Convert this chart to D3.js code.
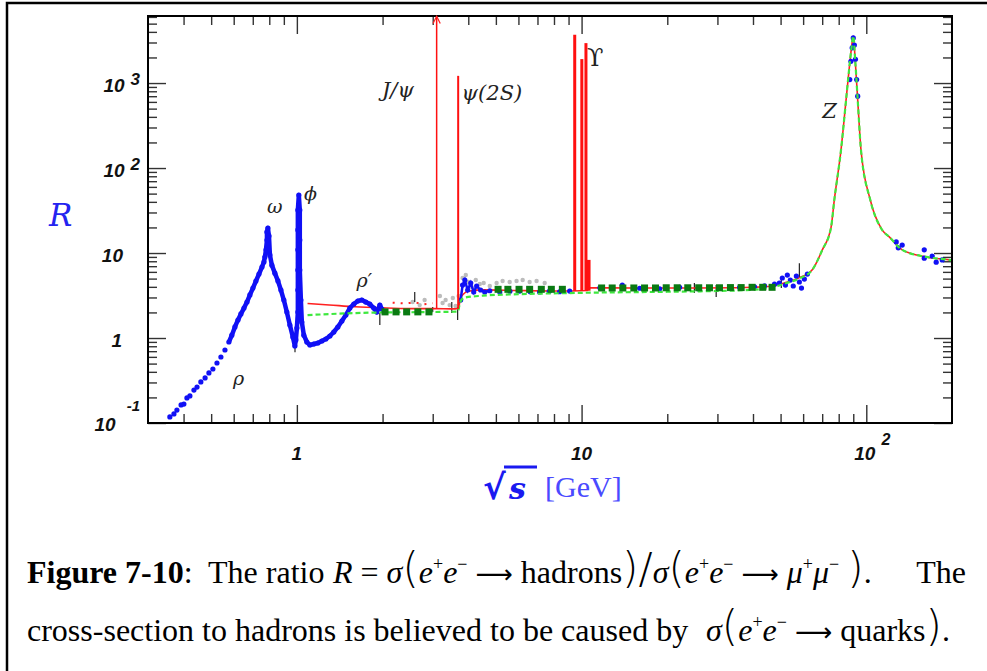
<!DOCTYPE html>
<meta charset="utf-8">
<title>R ratio</title>
<style>
body { margin: 0; background: #fff; }
svg { display: block; }
text { white-space: pre; }
.tick line { stroke: #333; stroke-width: 1.4; }
.tick text { display: none; }
.domain { display: none; }
</style>
<body>
<script src="https://d3js.org/d3.v7.min.js"></script>
<script>
// sqrt(s) [GeV], R

// blue data: rho / omega / phi / rho' region
var blueLow = [
  [0.358,0.118],[0.370,0.128],[0.379,0.142],[0.392,0.163],[0.401,0.167],[0.411,0.197],
  [0.421,0.208],[0.435,0.244],[0.446,0.265],[0.460,0.304],[0.476,0.339],[0.491,0.388],
  [0.507,0.432],[0.524,0.508],[0.541,0.598],[0.559,0.723],[0.577,0.897],[0.591,1.08],
  [0.606,1.35],[0.621,1.63],[0.636,1.92],[0.652,2.25],[0.668,2.65],[0.684,3.21],
  [0.701,3.87],[0.718,4.68],[0.736,5.66],[0.754,6.84],[0.766,7.84],[0.772,8.97],
  [0.779,10.9],[0.785,14.2],[0.785,17.7],[0.791,19.7],[0.798,15.9],[0.804,9.5],
  [0.817,7.2],[0.837,5.8],[0.858,4.7],[0.879,3.67],[0.900,2.8],[0.922,2.02],
  [0.945,1.42],[0.968,1.03],[0.984,0.805],[0.992,0.95],[1.0,1.31],[1.008,2.02],
  [1.008,3.67],[1.008,6.31],[1.008,10.9],[1.008,18.7],[1.008,32],[1.016,48],
  [1.024,32],[1.024,14.2],[1.024,6.3],[1.033,2.8],[1.041,1.54],[1.058,1.08],
  [1.084,0.897],[1.111,0.827],[1.147,0.85],[1.185,0.873],[1.224,0.922],[1.264,0.973],
  [1.306,1.056],[1.348,1.176],[1.393,1.347],[1.439,1.585],[1.486,1.865],[1.535,2.254],
  [1.585,2.512],[1.637,2.725],[1.691,2.8],[1.746,2.65],[1.803,2.51],[1.863,2.25],
  [1.909,2.02],[1.956,2.44],[1.987,2.19]
];

// blue data above charm threshold up to the Z rise
var blueMid = [
  [3.76,2.8],[3.82,4.2],[3.89,4.81],[3.98,3.67],[4.08,4.44],[4.18,3.48],[4.28,4.09],
  [4.42,3.67],[4.57,3.48],[4.76,3.6],[5.16,3.48],[5.6,3.55],[6.06,3.57],[6.6,3.5],
  [7.12,3.48],[7.7,3.55],[8.37,3.5],[9.08,3.57],[11.6,3.9],[13.9,4.2],[16,3.85],
  [18.8,3.8],[22.1,3.95],[25.9,3.75],[30.5,3.9],[35.9,3.95],[40.5,4.0],[43.9,4.1],
  [47.6,4.3],[49.5,4.44],[50.7,5.08],[52,4.2],[52.8,5.5],[54.1,4.81],[55.4,4.09],
  [56.8,5.36],[58.2,4.56],[59.2,3.87],[60.6,4.94],[62.1,5.66]
];

// blue data on and above the Z
var blueZ = [
  [87.5,1100],[88.3,1800],[89.2,2600],[90.0,3400],[90.8,2800],[91.6,1900],[92.5,1100],
  [93.3,700],[127.4,13.5],[129.5,11.5],[133.7,12.4],[159.8,10.9],[159.8,8.7],
  [170.4,9.2],[176,7.8],[184.8,8.3]
];

// grey data (charm threshold region)
var grayPts = [
  [2.55,2.65],[2.70,2.44],[2.81,2.8],[3.18,3.12],[3.25,2.58],[3.33,2.8],[3.44,2.44],
  [3.53,2.96],[3.61,2.38],[3.70,3.12],[3.82,5.08],[3.92,5.51],[4.01,4.56],[4.11,3.98],
  [4.25,4.81],[4.39,4.32],[4.53,4.44],[4.76,4.09],[5.03,4.44],[5.28,4.68],[5.59,4.56],
  [5.91,4.68],[6.21,4.81],[6.57,4.56],[6.95,4.68],[7.42,4.44]
];

// black error bars: sqrt(s), low, high
var errBars = [
  [0.985,0.68,0.85],[1.956,1.42,1.97],[2.594,2.65,3.48],[3.0,2.02,2.32],[3.5,1.97,2.65],
  [3.67,1.63,2.32],[24.9,3.38,4.44],[29.7,3.03,4.2],[50.3,3.87,5.08],[58.2,5.22,7.56]
];

// red curve (continuum part, resonances drawn as spikes)
var redCurve = [
  [1.09,2.55],[1.3,2.45],[1.6,2.33],[2.0,2.26],[2.5,2.22],[3.0,2.22],[3.6,2.2],
  [3.7,2.25],[3.75,2.9],[3.85,3.3],[4.0,3.55],[4.5,3.68],[6,3.62],[8,3.58],[9.3,3.58],
  [10.5,3.62],[10.6,3.9],[15,3.88],[25,3.88],[35,3.9],[40,3.95],[47,4.1],[52,4.5],
  [58,5.1],[64.5,6.3],[70,10.8],[75.2,20],[77.2,42],[81.5,163],[84.9,630],[87.2,1540],
  [88.6,2500],[90,3570],[91.5,1770],[93.3,630],[95.8,163],[103.3,42],[113.8,18.6],
  [120.4,15.5],[133.7,10.9],[162.4,9.0],[195.5,8.3],[200,8.2]
];

// red dotted segment
var redDotted = [[2.17,2.6],[2.4,2.55],[2.6,2.62],[2.8,2.5],[3.0,2.56]];

// green dashed curve
var greenCurve = [
  [1.09,1.86],[1.5,1.95],[2.0,2.0],[3.0,2.02],[3.68,2.05],[3.72,2.4],[3.78,2.8],
  [3.9,3.0],[4.5,3.15],[6,3.28],[9,3.38],[11,3.42],[20,3.5],[30,3.58],[40,3.7],
  [47,3.95],[52,4.4],[58,5.0],[64.5,6.3],[70,10.8],[75.2,20],[77.2,42],[81.5,163],
  [84.9,630],[87.2,1540],[88.6,2500],[90,3570],[91.5,1770],[93.3,630],[95.8,163],
  [103.3,42],[113.8,18.6],[120.4,15.5],[133.7,10.9],[162.4,9.0],[195.5,8.3],[200,8.2]
];

// dark green squares
var squares = [
  [2.04,2.03],[2.23,2.03],[2.43,2.03],[2.66,2.03],[2.91,2.03],
  [5.09,3.74],[5.51,3.74],[6.03,3.74],[6.57,3.74],[7.22,3.74],[7.83,3.74],[8.56,3.74],
  [11.76,3.88],[12.81,3.88],[13.96,3.88],[15.26,3.88],[16.64,3.88],[18.18,3.88],
  [19.83,3.9],[21.67,3.9],[23.6,3.9],[25.79,3.9],[28.13,3.9],[30.5,3.9],[33.33,3.92],
  [36.35,3.92],[39.71,3.95],[43.27,3.95],[46.68,3.95]
];

// narrow resonances: mass, base, peak, line width
var spikes = [
  {m: 3.097, base: 2.22, top: 6100, w: 1.5, arrow: true},
  {m: 3.686, base: 2.2, top: 1215, w: 2},
  {m: 9.46, base: 3.58, top: 3700, w: 3},
  {m: 10.02, base: 3.58, top: 1913, w: 3},
  {m: 10.36, base: 3.6, top: 2950, w: 3},
  {m: 10.58, base: 3.6, top: 8.3, w: 4}
];

// peak labels (left edge, baseline)
var peakLabels = [
  {t: "ρ", x: 0.597, y: 0.28, s: 19},
  {t: "ω", x: 0.785, y: 29.5, s: 19},
  {t: "ϕ", x: 1.06, y: 42, s: 19},
  {t: "ρ′", x: 1.62, y: 3.98, s: 19},
  {t: "J/ψ", x: 1.99, y: 684, s: 21},
  {t: "ψ(2S)", x: 3.79, y: 631, s: 21},
  {t: "ϒ", x: 10.45, y: 1585, s: 24, up: true},
  {t: "Z", x: 70, y: 387, s: 21}
];

var xMajor = [1, 10, 100];
var yMajor = [0.1, 1, 10, 100, 1000];

var W = 987, H = 671;
var margin = {top: 16, left: 148},
    width = 952 - 148,
    height = 423 - 16;

var svg = d3.select("body").append("svg")
    .attr("width", W)
    .attr("height", H);

// outer box of the figure
svg.append("rect")
    .attr("x", 7).attr("y", 3)
    .attr("width", 1000).attr("height", 700)
    .attr("fill", "none").attr("stroke", "#000").attr("stroke-width", 2.5);

var g = svg.append("g")
    .attr("transform", "translate(" + margin.left + "," + margin.top + ")");

var x = d3.scaleLog().domain([0.3, 200]).range([0, width]);
var y = d3.scaleLog().domain([0.1, 6150]).range([height, 0]);

var isMajor = function(v) { return Math.abs(Math.log10(v) - Math.round(Math.log10(v))) < 1e-6; };
var xMinor = x.ticks().filter(function(v) { return !isMajor(v) && v > 0.31 && v < 199; });
var yMinor = y.ticks().filter(function(v) { return !isMajor(v); });

// ticks on all four sides, pointing inwards
function ticks(axisFn, vals, size, tr) {
  g.append("g").attr("transform", tr)
    .call(axisFn.tickValues(vals).tickSize(-size).tickFormat(""));
}
ticks(d3.axisBottom(x), xMinor, 9, "translate(0," + height + ")");
ticks(d3.axisBottom(x), xMajor, 18, "translate(0," + height + ")");
ticks(d3.axisTop(x), xMinor, 9, "translate(0,0)");
ticks(d3.axisTop(x), xMajor, 18, "translate(0,0)");
ticks(d3.axisLeft(y), yMinor, 9, "translate(0,0)");
ticks(d3.axisLeft(y), yMajor, 18, "translate(0,0)");
ticks(d3.axisRight(y), yMinor, 9, "translate(" + width + ",0)");
ticks(d3.axisRight(y), yMajor, 18, "translate(" + width + ",0)");

// clip
g.append("clipPath").attr("id", "clip")
  .append("rect").attr("width", width).attr("height", height);
var plot = g.append("g").attr("clip-path", "url(#clip)");

var line = d3.line()
    .x(function(d) { return x(d[0]); })
    .y(function(d) { return y(d[1]); });
var smooth = d3.line()
    .x(function(d) { return x(d[0]); })
    .y(function(d) { return y(d[1]); })
    .curve(d3.curveMonotoneX);

// grey points
plot.selectAll(".gray").data(grayPts).enter().append("circle")
    .attr("cx", function(d) { return x(d[0]); })
    .attr("cy", function(d) { return y(d[1]); })
    .attr("r", 2.2).attr("fill", "#bcbcbc");

// error bars
plot.selectAll(".err").data(errBars).enter().append("line")
    .attr("x1", function(d) { return x(d[0]); })
    .attr("x2", function(d) { return x(d[0]); })
    .attr("y1", function(d) { return y(d[1]); })
    .attr("y2", function(d) { return y(d[2]); })
    .attr("stroke", "#222").attr("stroke-width", 1.2);

// red continuum
plot.append("path").datum(redCurve).attr("d", smooth)
    .attr("fill", "none").attr("stroke", "#ff2020").attr("stroke-width", 1.6);
plot.append("path").datum(redDotted).attr("d", line)
    .attr("fill", "none").attr("stroke", "#ff2020").attr("stroke-width", 2)
    .attr("stroke-dasharray", "2,6");

// blue data
plot.append("path").datum(blueLow.filter(function(d) { return d[0] >= 0.57; }))
    .attr("d", line).attr("fill", "none").attr("stroke", "#1010f5")
    .attr("stroke-width", 4.5).attr("stroke-linejoin", "round");
plot.append("path").datum(blueMid.filter(function(d) { return d[0] < 5; }))
    .attr("d", line).attr("fill", "none").attr("stroke", "#1010f5")
    .attr("stroke-width", 2.5);
plot.selectAll(".blue").data(blueLow.concat(blueMid, blueZ)).enter().append("circle")
    .attr("cx", function(d) { return x(d[0]); })
    .attr("cy", function(d) { return y(d[1]); })
    .attr("r", 2.6).attr("fill", "#1010f5");

// green dashed
plot.append("path").datum(greenCurve).attr("d", smooth)
    .attr("fill", "none").attr("stroke", "#3ee83e").attr("stroke-width", 2.2)
    .attr("stroke-dasharray", "5,3");

// dark green squares
plot.selectAll(".sq").data(squares).enter().append("rect")
    .attr("x", function(d) { return x(d[0]) - 3.5; })
    .attr("y", function(d) { return y(d[1]) - 3.5; })
    .attr("width", 7).attr("height", 7).attr("fill", "#0a7a12");

// frame
g.append("rect").attr("width", width).attr("height", height)
    .attr("fill", "none").attr("stroke", "#000").attr("stroke-width", 2);

// resonance spikes (on top of the frame so the J/psi arrow shows)
svg.append("defs").append("marker")
    .attr("id", "arr").attr("viewBox", "0 0 10 10")
    .attr("refX", 9).attr("refY", 5)
    .attr("markerWidth", 9).attr("markerHeight", 9)
    .attr("markerUnits", "userSpaceOnUse")
    .attr("orient", "auto")
  .append("path").attr("d", "M1,1 L9,5 L1,9").attr("fill", "none")
    .attr("stroke", "#ff2020").attr("stroke-width", 1.4);
g.selectAll(".spike").data(spikes).enter().append("line")
    .attr("x1", function(d) { return x(d.m); })
    .attr("x2", function(d) { return x(d.m); })
    .attr("y1", function(d) { return y(d.base); })
    .attr("y2", function(d) { return y(d.top); })
    .attr("stroke", "#ff1010")
    .attr("stroke-width", function(d) { return d.w; })
    .attr("marker-end", function(d) { return d.arrow ? "url(#arr)" : null; });

// peak labels
g.selectAll(".plab").data(peakLabels).enter().append("text")
    .attr("x", function(d) { return x(d.x); })
    .attr("y", function(d) { return y(d.y); })
    .style("font-family", "'DejaVu Serif', serif")
    .style("font-style", function(d) { return d.up ? "normal" : "italic"; })
    .style("font-size", function(d) { return d.s + "px"; })
    .attr("fill", "#222")
    .text(function(d) { return d.t; });

// tick labels
var tickFont = "'Liberation Sans', Arial, sans-serif";
function powLabel(px, py, exp, anchor, expDx, expDy, expSize) {
  var t = svg.append("text").attr("x", px).attr("y", py)
      .attr("text-anchor", anchor)
      .style("font-family", tickFont).style("font-weight", "bold")
      .style("font-style", "italic").style("font-size", "19px").attr("fill", "#111");
  t.append("tspan").text("10");
  if (exp) t.append("tspan").attr("dx", expDx).attr("dy", expDy)
      .style("font-size", expSize + "px").text(exp);
  return t;
}
var L = margin.left, T = margin.top;
powLabel(140, T + y(1000) + 9, "3", "end", 6, -7, 17);
powLabel(140, T + y(100) + 9, "2", "end", 6, -7, 17);
powLabel(123, T + y(10) + 9, null, "end");
svg.append("text").attr("x", 122).attr("y", T + y(1) + 9).attr("text-anchor", "end")
    .style("font-family", tickFont).style("font-weight", "bold")
    .style("font-style", "italic").style("font-size", "19px").attr("fill", "#111").text("1");
powLabel(140, T + y(0.1) + 8, "-1", "end", 11, -20, 15);

svg.append("text").attr("x", L + x(1)).attr("y", 460).attr("text-anchor", "middle")
    .style("font-family", tickFont).style("font-weight", "bold")
    .style("font-style", "italic").style("font-size", "19px").attr("fill", "#111").text("1");
powLabel(L + x(10), 460, null, "middle");
powLabel(L + x(100) - 12, 460, "2", "start", 6, -15, 16);

// axis titles
svg.append("text").attr("x", 49).attr("y", 226)
    .style("font-family", "'DejaVu Serif', serif").style("font-style", "italic")
    .style("font-size", "31px").attr("fill", "#2424f0").text("R");

var xt = svg.append("text").attr("x", 483).attr("y", 499).attr("fill", "#1a1af0");
xt.append("tspan").style("font-family", "'DejaVu Sans', sans-serif")
    .style("font-size", "34px").style("font-weight", "bold").text("√");
xt.append("tspan").attr("x", 509).style("font-family", "'DejaVu Serif', serif")
    .style("font-size", "30px").style("font-weight", "bold")
    .style("font-style", "italic").text("s");
xt.append("tspan").attr("x", 545).attr("y", 497)
    .style("font-family", "'Liberation Serif', serif")
    .style("font-size", "30px").attr("fill", "#4a4aff").text("[GeV]");
svg.append("line").attr("x1", 504).attr("x2", 537).attr("y1", 467).attr("y2", 467)
    .attr("stroke", "#1a1af0").attr("stroke-width", 3);

// caption
function caption(px, py, parts) {
  var t = svg.append("text").attr("x", px).attr("y", py)
      .style("font-family", "'Liberation Serif', 'Times New Roman', serif")
      .style("font-size", "32px").attr("fill", "#000");
  var cur = 0;
  parts.forEach(function(p) {
    var s = t.append("tspan").text(p.t);
    var target = p.sup ? -13 : 0;
    if (target !== cur) { s.attr("dy", target - cur); cur = target; }
    if (p.x != null) s.attr("x", p.x);
    if (p.b) s.style("font-weight", "bold");
    if (p.i) s.style("font-style", "italic");
    if (p.sup) s.style("font-size", "18px");
    if (p.big) s.style("font-family", "'DejaVu Sans', sans-serif")
        .style("font-size", "42px").style("font-weight", "200");
    if (p.arrow) s.style("font-family", "'DejaVu Sans', sans-serif").style("font-size", "26px");
  });
  return t;
}
caption(27, 583, [
  {t: "Figure 7-10", b: 1}, {t: ":  The ratio "},
  {t: "R", i: 1, x: 333}, {t: " = "}, {t: "σ", i: 1}, {t: "(", big: 1},
  {t: "e", i: 1}, {t: "+", sup: 1}, {t: "e", i: 1}, {t: "−", sup: 1},
  {t: " "}, {t: "⟶", arrow: 1}, {t: " hadrons"}, {t: ")", big: 1}, {t: "/", big: 1},
  {t: "σ", i: 1}, {t: "(", big: 1},
  {t: "e", i: 1}, {t: "+", sup: 1}, {t: "e", i: 1}, {t: "−", sup: 1},
  {t: " "}, {t: "⟶", arrow: 1}, {t: " "}, {t: "μ", i: 1}, {t: "+", sup: 1}, {t: "μ", i: 1},
  {t: "−", sup: 1}, {t: " "}, {t: ")", big: 1}, {t: "."}
]);
svg.append("text").attr("x", 966).attr("y", 583).attr("text-anchor", "end")
    .style("font-family", "'Liberation Serif', 'Times New Roman', serif")
    .style("font-size", "32px").text("The");
caption(27, 641, [
  {t: "cross-section to hadrons is believed to be caused by "},
  {t: "σ", i: 1, x: 706}, {t: "(", big: 1},
  {t: "e", i: 1}, {t: "+", sup: 1}, {t: "e", i: 1}, {t: "−", sup: 1},
  {t: " "}, {t: "⟶", arrow: 1}, {t: " quarks"}, {t: ")", big: 1}, {t: "."}
]);
</script>
</body>
